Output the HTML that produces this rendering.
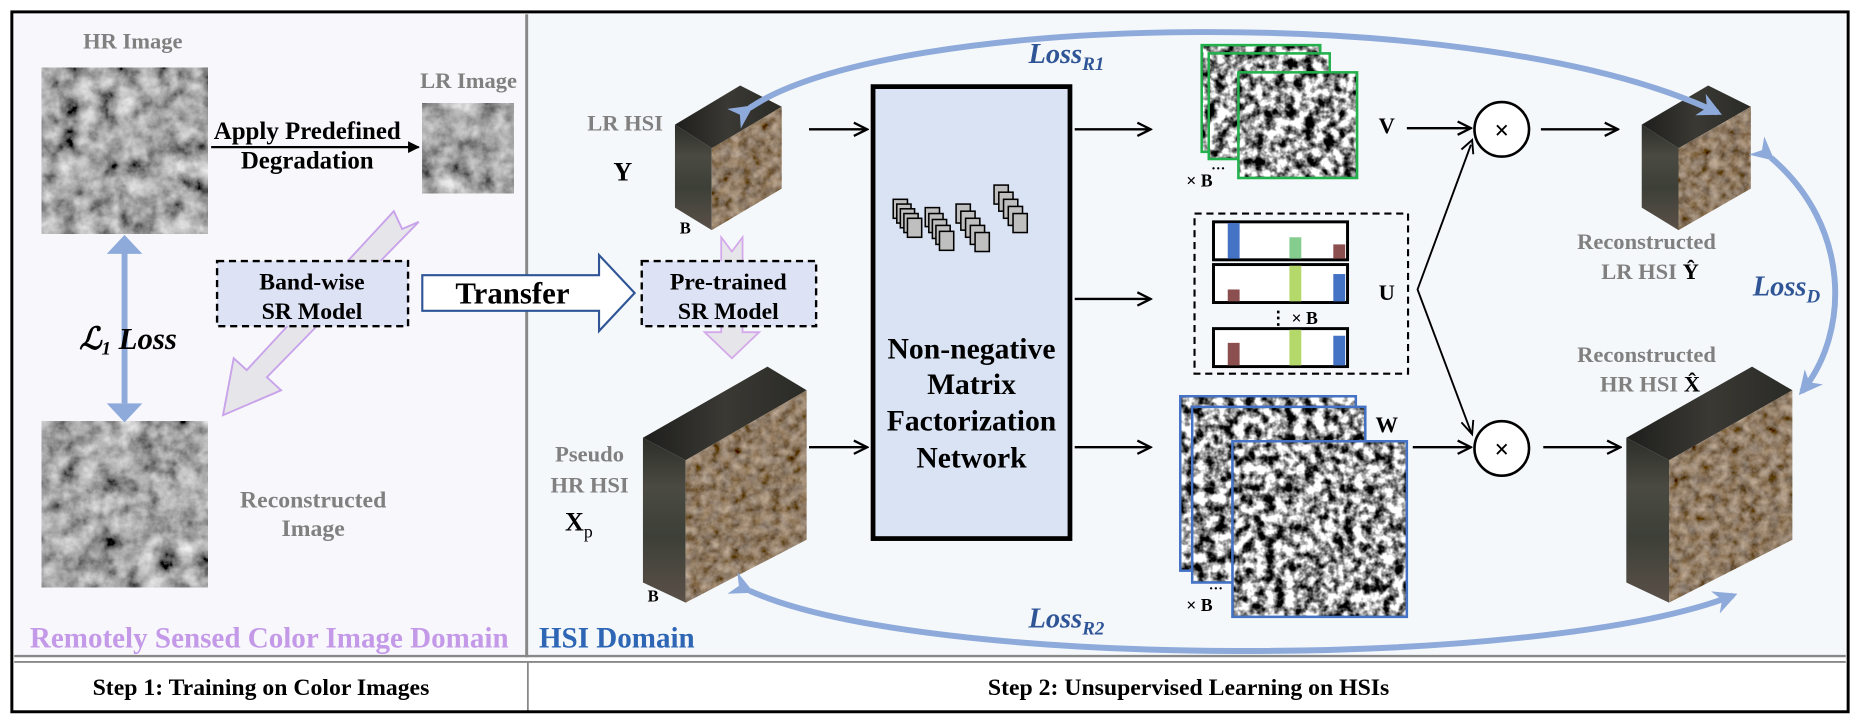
<!DOCTYPE html>
<html><head><meta charset="utf-8"><style>
html,body{margin:0;padding:0;background:#fff;width:1860px;height:722px;overflow:hidden}
svg{display:block}
text{font-family:"Liberation Serif",serif;font-weight:bold}
</style></head><body>
<svg width="1860" height="722" viewBox="0 0 1568 608.6" xmlns="http://www.w3.org/2000/svg">
<defs>
<filter id="gtex" x="0" y="0" width="100%" height="100%">
<feTurbulence type="fractalNoise" baseFrequency="0.06" numOctaves="4" seed="5" result="n"/>
<feColorMatrix in="n" type="matrix" values="0.8 0.8 0 0 -0.42  0.8 0.8 0 0 -0.42  0.8 0.8 0 0 -0.42  0 0 0 0 1"/>
</filter>
<filter id="bw" x="0" y="0" width="100%" height="100%">
<feTurbulence type="fractalNoise" baseFrequency="0.12" numOctaves="3" seed="9" result="n"/>
<feColorMatrix in="n" type="matrix" values="0 0 0 0 0  0 0 0 0 0  0 0 0 0 0  0 0 0 -3 1.9"/>
</filter>
<filter id="earth" x="0" y="0" width="100%" height="100%">
<feTurbulence type="fractalNoise" baseFrequency="0.12" numOctaves="3" seed="2" result="n"/>
<feColorMatrix in="n" type="matrix" values="0.5 0.3 0 0 -0.12  0.4 0.3 0 0 -0.15  0.3 0.3 0 0 -0.17  0 0 0 0 1" result="c"/>
<feComposite in="c" in2="SourceGraphic" operator="in"/>
</filter>
<linearGradient id="side" x1="0" y1="0" x2="0" y2="1">
<stop offset="0" stop-color="#2e2e2a"/><stop offset="0.3" stop-color="#4a4a42"/><stop offset="0.6" stop-color="#3d4038"/><stop offset="1" stop-color="#5a5048"/>
</linearGradient>
<linearGradient id="top" x1="0" y1="0" x2="1" y2="0">
<stop offset="0" stop-color="#1e1e1c"/><stop offset="0.5" stop-color="#3a3934"/><stop offset="1" stop-color="#2a2a26"/>
</linearGradient>
<marker id="ah" viewBox="0 0 10 10" refX="9" refY="5" markerWidth="7" markerHeight="7" orient="auto"><path d="M1 1 L9 5 L1 9" fill="none" stroke="#000" stroke-width="1.4"/></marker>
<marker id="af" viewBox="0 0 10 10" refX="9" refY="5" markerWidth="5" markerHeight="5" orient="auto"><path d="M0 0 L10 5 L0 10z" fill="#000"/></marker>
<marker id="bh" viewBox="0 0 10 10" refX="8" refY="5" markerWidth="4" markerHeight="4" orient="auto"><path d="M0 0 L10 5 L0 10 L3 5z" fill="#8eaadb"/></marker>
</defs>

<rect x="10" y="10" width="1548" height="590" fill="#fff"/>
<rect x="12" y="12" width="431" height="541" fill="#f8f8fc"/>
<rect x="445" y="12" width="1111" height="541" fill="#f5f8fb"/>
<line x1="444" y1="12" x2="444" y2="554" stroke="#888" stroke-width="2.5"/>
<line x1="12" y1="553" x2="1556" y2="553" stroke="#888" stroke-width="2"/>
<line x1="12" y1="558" x2="1556" y2="558" stroke="#888" stroke-width="1.5"/>
<line x1="445" y1="558" x2="445" y2="600" stroke="#888" stroke-width="1.5"/>
<rect x="10" y="10" width="1548" height="590" fill="none" stroke="#000" stroke-width="2.5"/>
<text x="220" y="586" font-size="20" text-anchor="middle">Step 1: Training on Color Images</text>
<text x="1002" y="586" font-size="20" text-anchor="middle">Step 2: Unsupervised Learning on HSIs</text>

<text x="112" y="41" font-size="19" fill="#808080" text-anchor="middle">HR Image</text>
<rect x="35" y="57" width="140" height="140" fill="#888" filter="url(#gtex)"/>
<text x="395" y="74" font-size="19" fill="#808080" text-anchor="middle">LR Image</text>
<rect x="356" y="87" width="77" height="76" fill="#888" filter="url(#gtex)"/>
<line x1="178" y1="124" x2="353" y2="124" stroke="#000" stroke-width="2" marker-end="url(#af)"/>
<text x="259" y="117" font-size="21" text-anchor="middle">Apply Predefined</text>
<text x="259" y="142" font-size="21" text-anchor="middle">Degradation</text>
<rect x="35" y="355" width="140" height="140" fill="#888" filter="url(#gtex)"/>
<text x="264" y="428" font-size="20" fill="#808080" text-anchor="middle">Reconstructed</text>
<text x="264" y="452" font-size="20" fill="#808080" text-anchor="middle">Image</text>
<line x1="105" y1="212" x2="105" y2="340" stroke="#8eaadb" stroke-width="5"/>
<path d="M105 198 L120 214 L90 214z M105 356 L120 340 L90 340z" fill="#8eaadb"/>
<text x="108" y="294" font-size="26" font-style="italic" text-anchor="middle">ℒ<tspan font-size="16" dy="5">1</tspan><tspan dy="-5"> Loss</tspan></text>
<path d="M332 178 L339 193 L353 187 L225 318 L237 329 L188 350 L197 302 L208 312 Z" fill="#e6e6ea" stroke="#c9a3ea" stroke-width="1.6"/>
<rect x="183" y="220" width="161" height="55" fill="#dde3f4" stroke="#000" stroke-width="2" stroke-dasharray="6,4"/>
<text x="263" y="244" font-size="20" text-anchor="middle">Band-wise</text>
<text x="263" y="269" font-size="20" text-anchor="middle">SR Model</text>
<text x="227" y="546" font-size="24.5" fill="#c49ae8" text-anchor="middle">Remotely Sensed Color Image Domain</text>

<path d="M356 232 L505 232 L505 215 L535 247 L505 279 L505 262 L356 262 Z" fill="#fff" stroke="#2f5597" stroke-width="1.8"/>
<text x="432" y="256" font-size="26" text-anchor="middle">Transfer</text>

<text x="520" y="546" font-size="24.5" fill="#2e66b5" text-anchor="middle">HSI Domain</text>
<polygon points="569,105 624,72 659,90 600,125" fill="url(#top)"/>
<polygon points="569,105 600,125 600,194 569,175" fill="url(#side)"/>
<polygon points="600,125 659,90 659,159 600,194" fill="#6b5c4a" filter="url(#earth)"/>
<text x="527" y="110" font-size="19" fill="#808080" text-anchor="middle">LR HSI</text>
<text x="525" y="152" font-size="22" text-anchor="middle">Y</text>
<text x="573" y="197" font-size="14" font-weight="normal">B</text>
<path d="M608 200 L617 212 L626 200 L626 280 L640 280 L617 302 L594 280 L608 280 Z" fill="#e6e6ea" stroke="#d4a8ea" stroke-width="1.5"/>
<rect x="541" y="220" width="147" height="55" fill="#dde3f4" stroke="#000" stroke-width="2" stroke-dasharray="6,4"/>
<text x="614" y="244" font-size="20" text-anchor="middle">Pre-trained</text>
<text x="614" y="269" font-size="20" text-anchor="middle">SR Model</text>
<polygon points="542,369 647,309 680,329 578,388" fill="url(#top)"/>
<polygon points="542,369 578,388 578,508 542,491" fill="url(#side)"/>
<polygon points="578,388 680,329 680,455 578,508" fill="#6b5c4a" filter="url(#earth)"/>
<text x="497" y="389" font-size="19" fill="#808080" text-anchor="middle">Pseudo</text>
<text x="497" y="415" font-size="19" fill="#808080" text-anchor="middle">HR HSI</text>
<text x="488" y="447" font-size="22" text-anchor="middle">X<tspan font-size="15" font-weight="normal" dy="6">p</tspan></text>
<text x="546" y="507" font-size="14" font-weight="normal">B</text>

<line x1="682" y1="109" x2="731" y2="109" stroke="#000" stroke-width="2" marker-end="url(#ah)"/>
<line x1="682" y1="377" x2="731" y2="377" stroke="#000" stroke-width="2" marker-end="url(#ah)"/>
<rect x="736" y="73" width="166" height="381" fill="#dae3f3" stroke="#000" stroke-width="4"/>
<g fill="#bfbfbf" stroke="#000" stroke-width="1.3">
<rect x="753" y="168" width="12" height="16"/><rect x="756" y="172" width="12" height="16"/><rect x="759" y="176" width="12" height="16"/><rect x="762" y="180" width="12" height="16"/><rect x="765" y="184" width="12" height="16"/>
<rect x="780" y="175" width="12" height="16"/><rect x="783" y="180" width="12" height="16"/><rect x="786" y="185" width="12" height="16"/><rect x="789" y="190" width="12" height="16"/><rect x="792" y="195" width="12" height="16"/>
<rect x="806" y="172" width="12" height="16"/><rect x="810" y="178" width="12" height="16"/><rect x="814" y="184" width="12" height="16"/><rect x="818" y="190" width="12" height="16"/><rect x="822" y="196" width="12" height="16"/>
<rect x="838" y="156" width="12" height="16"/><rect x="842" y="162" width="12" height="16"/><rect x="846" y="168" width="12" height="16"/><rect x="850" y="174" width="12" height="16"/><rect x="854" y="180" width="12" height="16"/>
</g>
<text x="819" y="302" font-size="25" text-anchor="middle">Non-negative</text>
<text x="819" y="332" font-size="25" text-anchor="middle">Matrix</text>
<text x="819" y="363" font-size="25" text-anchor="middle">Factorization</text>
<text x="819" y="394" font-size="25" text-anchor="middle">Network</text>
<line x1="906" y1="109" x2="970" y2="109" stroke="#000" stroke-width="2" marker-end="url(#ah)"/>
<line x1="906" y1="252" x2="970" y2="252" stroke="#000" stroke-width="2" marker-end="url(#ah)"/>
<line x1="906" y1="377" x2="970" y2="377" stroke="#000" stroke-width="2" marker-end="url(#ah)"/>

<g stroke="#22b14c" stroke-width="2">
<rect x="1013" y="38" width="100" height="90" fill="#fff"/>
<rect x="1013" y="38" width="100" height="90" fill="#888" filter="url(#bw)"/>
<rect x="1013" y="38" width="100" height="90" fill="none"/>
<rect x="1019" y="45" width="102" height="89" fill="#fff"/>
<rect x="1019" y="45" width="102" height="89" fill="#888" filter="url(#bw)"/>
<rect x="1019" y="45" width="102" height="89" fill="none"/>
<rect x="1044" y="61" width="100" height="89" fill="#fff"/>
<rect x="1044" y="61" width="100" height="89" fill="#888" filter="url(#bw)"/>
<rect x="1044" y="61" width="100" height="89" fill="none"/>
</g>
<text x="1169" y="112" font-size="19" text-anchor="middle">V</text>
<text x="1000" y="157" font-size="15" font-weight="normal">× B</text>
<text x="1021" y="146" font-size="12">···</text>
<rect x="1007" y="180" width="180" height="135" fill="none" stroke="#000" stroke-width="1.8" stroke-dasharray="6,4"/>
<g stroke="#000" stroke-width="2.5" fill="#fff">
<rect x="1023" y="187" width="113" height="32"/><rect x="1023" y="223" width="113" height="32"/><rect x="1023" y="277" width="113" height="32"/>
</g>
<rect x="1035" y="188" width="10" height="30" fill="#4472c4"/>
<rect x="1087" y="200" width="10" height="18" fill="#85cc8f"/>
<rect x="1124" y="206" width="10" height="12" fill="#8b4f4f"/>
<rect x="1035" y="244" width="10" height="10" fill="#8b4f4f"/>
<rect x="1087" y="224" width="10" height="30" fill="#b5d86a"/>
<rect x="1124" y="231" width="10" height="23" fill="#4472c4"/>
<rect x="1035" y="289" width="10" height="19" fill="#8b4f4f"/>
<rect x="1087" y="278" width="10" height="30" fill="#b5d86a"/>
<rect x="1124" y="283" width="10" height="25" fill="#4472c4"/>
<text x="1070" y="273" font-size="15" font-weight="normal">⋮ × B</text>
<text x="1169" y="253" font-size="19" text-anchor="middle">U</text>
<g stroke="#4472c4" stroke-width="2">
<rect x="995" y="334" width="148" height="147" fill="#fff"/>
<rect x="995" y="334" width="148" height="147" fill="#888" filter="url(#bw)"/>
<rect x="995" y="334" width="148" height="147" fill="none"/>
<rect x="1005" y="343" width="146" height="148" fill="#fff"/>
<rect x="1005" y="343" width="146" height="148" fill="#888" filter="url(#bw)"/>
<rect x="1005" y="343" width="146" height="148" fill="none"/>
<rect x="1039" y="372" width="147" height="148" fill="#fff"/>
<rect x="1039" y="372" width="147" height="148" fill="#888" filter="url(#bw)"/>
<rect x="1039" y="372" width="147" height="148" fill="none"/>
</g>
<text x="1169" y="364" font-size="19" text-anchor="middle">W</text>
<text x="1000" y="515" font-size="15" font-weight="normal">× B</text>
<text x="1019" y="500" font-size="12">···</text>

<circle cx="1266" cy="109" r="23" fill="#fff" stroke="#000" stroke-width="2.2"/>
<text x="1266" y="117" font-size="22" font-weight="normal" text-anchor="middle">×</text>
<circle cx="1266" cy="378" r="23" fill="#fff" stroke="#000" stroke-width="2.2"/>
<text x="1266" y="386" font-size="22" font-weight="normal" text-anchor="middle">×</text>
<line x1="1186" y1="108" x2="1240" y2="108" stroke="#000" stroke-width="2" marker-end="url(#ah)"/>
<line x1="1191" y1="377" x2="1240" y2="377" stroke="#000" stroke-width="2" marker-end="url(#ah)"/>
<polyline points="1240,122 1195,244 1240,364" fill="none" stroke="#000" stroke-width="1.6"/>
<path d="M1232 126 L1241 118 L1242 130" fill="none" stroke="#000" stroke-width="1.6"/>
<path d="M1232 356 L1241 366 L1242 354" fill="none" stroke="#000" stroke-width="1.6"/>
<line x1="1299" y1="109" x2="1364" y2="109" stroke="#000" stroke-width="2" marker-end="url(#ah)"/>
<line x1="1301" y1="377" x2="1366" y2="377" stroke="#000" stroke-width="2" marker-end="url(#ah)"/>

<polygon points="1384,105 1440,72 1476,90 1415,125" fill="url(#top)"/>
<polygon points="1384,105 1415,125 1415,194 1384,175" fill="url(#side)"/>
<polygon points="1415,125 1476,90 1476,159 1415,194" fill="#6b5c4a" filter="url(#earth)"/>
<text x="1388" y="210" font-size="19" fill="#808080" text-anchor="middle">Reconstructed</text>
<text x="1391" y="235" font-size="19" fill="#808080" text-anchor="middle">LR HSI <tspan fill="#000">Ŷ</tspan></text>
<polygon points="1371,369 1477,309 1511,329 1407,388" fill="url(#top)"/>
<polygon points="1371,369 1407,388 1407,508 1371,491" fill="url(#side)"/>
<polygon points="1407,388 1511,329 1511,455 1407,508" fill="#6b5c4a" filter="url(#earth)"/>
<text x="1388" y="305" font-size="19" fill="#808080" text-anchor="middle">Reconstructed</text>
<text x="1391" y="330" font-size="19" fill="#808080" text-anchor="middle">HR HSI <tspan fill="#000">X̂</tspan></text>

<path d="M632 91 C750 10 1250 0 1448 95" fill="none" stroke="#8eaadb" stroke-width="5" marker-start="url(#bh)" marker-end="url(#bh)"/>
<text x="899" y="53" font-size="24" font-style="italic" fill="#2f5597" text-anchor="middle">Loss<tspan font-size="16" dy="6">R1</tspan></text>
<path d="M632 498 C780 565 1300 565 1461 502" fill="none" stroke="#8eaadb" stroke-width="5" marker-start="url(#bh)" marker-end="url(#bh)"/>
<text x="899" y="529" font-size="24" font-style="italic" fill="#2f5597" text-anchor="middle">Loss<tspan font-size="16" dy="6">R2</tspan></text>
<path d="M1493 133 C1560 190 1560 280 1519 330" fill="none" stroke="#8eaadb" stroke-width="5" marker-start="url(#bh)" marker-end="url(#bh)"/>
<text x="1506" y="249" font-size="24" font-style="italic" fill="#2f5597" text-anchor="middle">Loss<tspan font-size="16" dy="6">D</tspan></text>
</svg>
</body></html>
